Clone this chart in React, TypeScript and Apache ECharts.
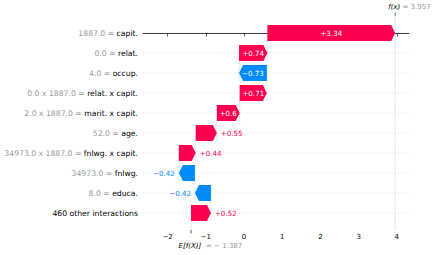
import React, { useEffect, useRef } from 'react';
import * as echarts from 'echarts';

// ---- data ----
const featureNames = [
  'capit.',
  'relat.',
  'occup.',
  'relat. x capit.',
  'marit. x capit.',
  'age.',
  'fnlwg. x capit.',
  'fnlwg.',
  'educa.',
  '460 other interactions',
];
const featureValues = [
  '1887.0',
  '0.0',
  '4.0',
  '0.0 x 1887.0',
  '2.0 x 1887.0',
  '52.0',
  '34973.0 x 1887.0',
  '34973.0',
  '8.0',
  '',
];
const shapValues = [3.344, 0.742, -0.728, 0.712, 0.598, 0.552, 0.442, -0.421, -0.418, 0.521];
const baseValue = -1.387;
const fxValue = 3.957;
const xTicks = [-2, -1, 0, 1, 2, 3, 4];

const POS = '#ff0051';
const NEG = '#008bfb';
const FONT = '"DejaVu Sans", "Liberation Sans", sans-serif';

function fmtShap(v: number): string {
  const s = Math.abs(v).toFixed(2).replace(/0+$/, '').replace(/\.$/, '');
  return (v >= 0 ? '+' : '\u2212') + s;
}
function fmtTick(v: number): string {
  return v < 0 ? '\u2212' + Math.abs(v) : String(v);
}

let measureCtx: CanvasRenderingContext2D | null = null;
function measure(text: string, size: number): number {
  if (!measureCtx) measureCtx = document.createElement('canvas').getContext('2d');
  if (!measureCtx) return text.length * size * 0.6;
  measureCtx.font = `${size}px ${FONT}`;
  return measureCtx.measureText(text).width;
}

export default function App() {
  const ref = useRef<HTMLDivElement>(null);

  useEffect(() => {
    if (!ref.current) return;
    const n = shapValues.length;
    const starts: number[] = new Array(n);
    const ends: number[] = new Array(n);
    let cum = baseValue;
    for (let i = n - 1; i >= 0; i--) {
      starts[i] = cum;
      ends[i] = cum + shapValues[i];
      cum = ends[i];
    }
    const rows = shapValues.map((v, i) => [i, starts[i], ends[i], v]);

    const chart = echarts.init(ref.current, null, { renderer: 'svg' });

    const guideItem = (params: any, api: any) => {
      const i = api.value(0);
      const s = api.value(1);
      const cs = params.coordSys;
      const yc = api.coord([0, i])[1];
      const children: any[] = [];
      children.push({
        type: 'line',
        silent: true,
        shape: { x1: cs.x, y1: yc, x2: cs.x + cs.width, y2: yc },
        style: { stroke: '#cccccc', lineWidth: 0.6, lineDash: [0.8, 1.8] },
      });
      if (i < n - 1) {
        const x = api.coord([s, i])[0];
        const yTop = api.coord([s, i - 0.4])[1];
        const yBot = api.coord([s, i + 1.4])[1];
        children.push({
          type: 'line',
          silent: true,
          shape: { x1: x, y1: yTop, x2: x, y2: yBot },
          style: { stroke: '#bbbbbb', lineWidth: 0.5, lineDash: [1.5, 0.7] },
        });
      }
      const name = featureNames[i];
      const fv = featureValues[i];
      const text = fv ? `{v|${fv} = }{n|${name}}` : `{n|${name}}`;
      children.push({
        type: 'text',
        x: cs.x - 5,
        y: yc,
        style: {
          text,
          align: 'right',
          verticalAlign: 'middle',
          fontSize: 7.7,
          fontFamily: FONT,
          rich: {
            v: { fill: '#999999', fontSize: 7.7, fontFamily: FONT },
            n: { fill: '#000000', fontSize: 7.7, fontFamily: FONT },
          },
        },
      });
      return { type: 'group', children };
    };

    const barItem = (params: any, api: any) => {
      const i = api.value(0);
      const s = api.value(1);
      const e = api.value(2);
      const v = api.value(3);
      const p0 = api.coord([s, i]);
      const p1 = api.coord([e, i]);
      const yc = p0[1];
      const hh = api.size([0, 0.8])[1] / 2;
      const xs = p0[0];
      const xe = p1[0];
      const w = Math.abs(xe - xs);
      const hl = Math.min(4, w);
      const dir = v >= 0 ? 1 : -1;
      const color = v >= 0 ? POS : NEG;
      const points = [
        [xs, yc - hh],
        [xe - dir * hl, yc - hh],
        [xe, yc],
        [xe - dir * hl, yc + hh],
        [xs, yc + hh],
      ];
      const label = fmtShap(v);
      const tw = measure(label, 7.1);
      const children: any[] = [
        { type: 'polygon', shape: { points }, style: { fill: color, stroke: 'none' } },
      ];
      if (tw < w) {
        children.push({
          type: 'text',
          x: (xs + xe) / 2,
          y: yc,
          style: {
            text: label,
            fill: '#ffffff',
            fontSize: 7.1,
            fontFamily: FONT,
            align: 'center',
            verticalAlign: 'middle',
          },
        });
      } else {
        children.push({
          type: 'text',
          x: xe + dir * 4,
          y: yc,
          style: {
            text: label,
            fill: color,
            fontSize: 7.1,
            fontFamily: FONT,
            align: dir > 0 ? 'left' : 'right',
            verticalAlign: 'middle',
          },
        });
      }
      return { type: 'group', children };
    };

    const annotItem = (params: any, api: any) => {
      const base = api.value(0);
      const fx = api.value(1);
      const cs = params.coordSys;
      const xb = api.coord([base, 0])[0];
      const xf = api.coord([fx, 0])[0];
      const yTop = cs.y;
      const yBot = cs.y + cs.height;
      const grey = '#999999';
      return {
        type: 'group',
        children: [
          {
            type: 'line',
            silent: true,
            shape: { x1: xf, y1: yTop, x2: xf, y2: yBot },
            style: { stroke: '#bbbbbb', lineWidth: 0.5, lineDash: [1.5, 0.7] },
          },
          {
            type: 'line',
            silent: true,
            shape: { x1: xb, y1: yBot - cs.height / n, x2: xb, y2: yBot },
            style: { stroke: '#bbbbbb', lineWidth: 0.5, lineDash: [1.5, 0.7] },
          },
          {
            type: 'line',
            shape: { x1: xf, y1: yTop - 3.5, x2: xf, y2: yTop },
            style: { stroke: '#555555', lineWidth: 0.8 },
          },
          {
            type: 'line',
            shape: { x1: xb, y1: yBot, x2: xb, y2: yBot + 3.5 },
            style: { stroke: '#333333', lineWidth: 0.8 },
          },
          {
            type: 'text',
            x: xf - 7,
            y: 7,
            style: {
              text: 'f(x)',
              fill: '#000000',
              fontStyle: 'italic',
              fontSize: 7,
              fontFamily: FONT,
              align: 'left',
              verticalAlign: 'middle',
            },
          },
          {
            type: 'text',
            x: xf + 7.3,
            y: 7,
            style: {
              text: '= ' + fx.toFixed(3),
              fill: grey,
              fontSize: 7,
              fontFamily: FONT,
              align: 'left',
              verticalAlign: 'middle',
            },
          },
          {
            type: 'text',
            x: xb - 12.4,
            y: 246,
            style: {
              text: 'E[f(X)]',
              fill: '#000000',
              fontStyle: 'italic',
              fontSize: 7,
              fontFamily: FONT,
              align: 'left',
              verticalAlign: 'middle',
            },
          },
          {
            type: 'text',
            x: xb + 15,
            y: 246,
            style: {
              text: '= \u2212 ' + Math.abs(base).toFixed(3),
              fill: grey,
              fontSize: 7,
              fontFamily: FONT,
              align: 'left',
              verticalAlign: 'middle',
            },
          },
        ],
      };
    };

    chart.setOption({
      animation: false,
      backgroundColor: '#ffffff',
      grid: { left: 143, right: 27, top: 16, bottom: 25, containLabel: false, outerBoundsMode: 'none' },
      xAxis: {
        type: 'value',
        min: -2.644,
        max: 4.319,
        splitLine: { show: false },
        axisLine: { show: true, lineStyle: { color: '#333333', width: 1 } },
        axisTick: { show: true, length: 3.5, customValues: xTicks, lineStyle: { color: '#333333', width: 0.8 } },
        axisLabel: {
          customValues: xTicks,
          formatter: (v: number) => fmtTick(v),
          color: '#000000',
          fontSize: 7,
          fontFamily: FONT,
          margin: 3.5,
        },
      },
      yAxis: {
        type: 'value',
        min: -0.85,
        max: 9.85,
        inverse: true,
        show: false,
      },
      series: [
        {
          type: 'custom',
          coordinateSystem: 'cartesian2d',
          renderItem: guideItem,
          data: rows,
          z: 1,
          silent: true,
        },
        {
          type: 'custom',
          coordinateSystem: 'cartesian2d',
          renderItem: annotItem,
          data: [[baseValue, fxValue]],
          z: 2,
          silent: true,
        },
        {
          type: 'custom',
          coordinateSystem: 'cartesian2d',
          renderItem: barItem,
          data: rows,
          z: 3,
          silent: true,
        },
      ],
    });

    return () => {
      chart.dispose();
    };
  }, []);

  return (
    <div
      ref={ref}
      style={{ position: 'fixed', left: 0, top: 0, width: 436, height: 255 }}
    />
  );
}
